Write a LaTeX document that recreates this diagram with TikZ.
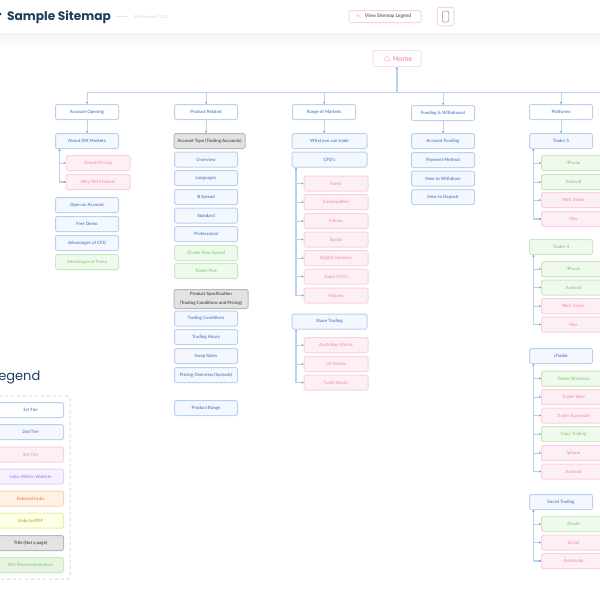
\documentclass[tikz,border=0pt]{standalone}
\usepackage{fontspec}
\usetikzlibrary{arrows.meta}
\setmainfont{Lato}
\newfontfamily\titlefont{Poppins}
\newcommand{\labelSize}[0]{\fontsize{4.4}{9}\bfseries\selectfont}
\definecolor{navy}{HTML}{1D3F5E}
\definecolor{lineBlue}{HTML}{B9D2F0}
\definecolor{tipBlue}{HTML}{6F9ADB}
\definecolor{textBlue}{HTML}{5A8CD4}
\definecolor{fillBlue}{HTML}{F4F7FD}
\definecolor{textPink}{HTML}{F99ABD}
\definecolor{fillPink}{HTML}{FDF0F4}
\definecolor{linePink}{HTML}{FBD0E0}
\definecolor{textGreen}{HTML}{8CD87C}
\definecolor{fillGreen}{HTML}{F0F9ED}
\definecolor{lineGreen}{HTML}{C8EABF}
\definecolor{lineLilac}{HTML}{DFCFFB}
\definecolor{fillLilac}{HTML}{F6F1FE}
\definecolor{textLilac}{HTML}{B58CF5}
\definecolor{lineOrange}{HTML}{FFD2AE}
\definecolor{fillOrange}{HTML}{FFF1E6}
\definecolor{textOrange}{HTML}{F58C4A}
\definecolor{lineYellow}{HTML}{E9EEA8}
\definecolor{fillYellow}{HTML}{FDFFE6}
\definecolor{textYellow}{HTML}{ADB338}
\definecolor{fillSeo}{HTML}{E8F3E4}

\begin{document}
\begin{tikzpicture}[x=1pt, y=-1pt]
  \tikzset{
    box/.style={rounded corners=1.5pt, line width=1pt, minimum width=63pt, minimum height=15pt, inner sep=0pt, align=center, font=\labelSize},
    tierOne/.style={box, draw=lineBlue, fill=white, text=textBlue},
    tierTwo/.style={box, draw=lineBlue, fill=fillBlue, text=textBlue},
    tierThree/.style={box, draw=linePink, fill=fillPink, text=textPink},
    seoBox/.style={box, draw=lineGreen, fill=fillGreen, text=textGreen},
    titleBox/.style={box, draw=black!28, fill=black!11, text=black!65},
    legendBox/.style={minimum width=66pt},
    link/.style={draw=lineBlue, line width=0.9pt, -{Stealth[length=2pt, width=2.2pt, color=tipBlue]}},
    trunk/.style={draw=lineBlue, line width=1.1pt, {Stealth[length=2pt, width=2.2pt, color=tipBlue]}-}
  }
  \useasboundingbox (0,0) rectangle (600,600);
  \clip (0,0) rectangle (600,600);

  \shade[top color=black!5, bottom color=white] (0,33) rectangle (600,46);
  \node[anchor=west, text=navy, font=\titlefont\bfseries\fontsize{12.2}{15}\selectfont, inner sep=0pt] (sitemapTitle) at (7,17) {Sample Sitemap};
  \fill[navy] (0,15.5) arc (90:-90:1.6) -- cycle;
  \draw[black!10, line width=0.5pt] (116,16.5) -- (127,16.5);
  \node[anchor=west, text=black!18, font=\fontsize{4.2}{5}\selectfont, inner sep=0pt] (sitemapDate) at (134,17) {26 February 2023};
  \node[box, draw=linePink, fill=white, text=black!60, minimum width=72pt, minimum height=12pt, font=\fontsize{4.8}{5}\bfseries\selectfont] (legendButton) at (385,16.5) {\hspace{6pt}View Sitemap Legend};
  \draw[linePink, line width=0.5pt] (358,15.5) circle (1.3) -- (361,18);
  \node[box, draw=linePink, fill=white, minimum width=16.5pt, minimum height=18.5pt] (phoneButton) at (445.5,16.5) {};
  \node[draw=black!45, fill=white, line width=0.5pt, rounded corners=2pt, minimum width=6.5pt, minimum height=11pt, inner sep=0pt] (phoneIcon) at (445.5,16.5) {};

  \node[box, draw=linePink!70, fill=white, text=textPink, minimum width=48pt, minimum height=16pt, font=\fontsize{7.2}{8}\bfseries\selectfont] (home) at (397,58.5) {\hspace{11pt}Home};
  \draw[textPink!70, line width=0.5pt] (384.5,60.5) -- (384.5,58) -- (387,56) -- (389.5,58) -- (389.5,60.5) -- cycle;

  \coordinate (busLeft) at (87,92.5);
  \coordinate (busRight) at (600,92.5);
  \draw[draw=lineBlue, line width=1pt] (busLeft) -- (busRight);
  \draw[trunk] (home.south) -- (home.south |- busRight);

  \node[tierOne] (accountOpening) at (87,112) {Account Opening};
  \node[tierTwo] (aboutXm) at (87,141) {About XM Markets};
  \node[tierThree, minimum width=64pt] (simplePricing) at (98,163) {Simple Pricing};
  \node[tierThree, minimum width=64pt] (whyXm) at (98,182) {Why XM Markets};
  \node[tierTwo] (openAccount) at (87,205) {Open an Account};
  \node[tierTwo] (freeDemo) at (87,224) {Free Demo};
  \node[tierTwo] (advCfd) at (87,243) {Advantages of CFD};
  \node[seoBox] (advForex) at (87,262) {Advantages of Forex};

  \node[tierOne] (productRelated) at (206,112) {Product Related};
  \node[titleBox, minimum width=71pt] (accountType) at (209.5,141) {Account Type (Trading Accounts)};
  \node[tierTwo] (overview) at (206,159.5) {Overview};
  \node[tierTwo] (languages) at (206,178) {Languages};
  \node[tierTwo] (bSpread) at (206,197) {B Spread};
  \node[tierTwo] (standard) at (206,215.5) {Standard};
  \node[tierTwo] (professional) at (206,234) {Professional};
  \node[seoBox] (rawSpread) at (206,253) {cTrader Raw Spread};
  \node[seoBox] (traderPlus) at (206,271) {Trader Plus};
  \node[titleBox, minimum width=74pt, minimum height=19pt] (productSpec) at (211,299) {Product Specification\\(Trading Conditions and Pricing)};
  \node[tierTwo] (tradingConditions) at (206,318.5) {Trading Conditions};
  \node[tierTwo] (tradingHours) at (206,337) {Trading Hours};
  \node[tierTwo] (swapRates) at (206,356) {Swap Rates};
  \node[tierTwo] (pricingOverview) at (206,375) {Pricing Overview (Spreads)};
  \node[tierTwo] (productRange) at (206,408) {Product Range};

  \node[tierOne] (rangeMarkets) at (324,112) {Range of Markets};
  \node[tierTwo, minimum width=75pt] (whatTrade) at (329.5,141) {What you can trade};
  \node[tierTwo, minimum width=75pt] (cfds) at (329.5,159.5) {CFD's};
  \node[tierThree, minimum width=64pt] (forex) at (336,183.5) {Forex};
  \node[tierThree, minimum width=64pt] (commodities) at (336,202) {Commodities};
  \node[tierThree, minimum width=64pt] (indices) at (336,221) {Indices};
  \node[tierThree, minimum width=64pt] (bonds) at (336,239.5) {Bonds};
  \node[tierThree, minimum width=64pt] (digitalCurrency) at (336,258) {Digital Currency};
  \node[tierThree, minimum width=64pt] (shareCfds) at (336,276.5) {Share CFD's};
  \node[tierThree, minimum width=64pt] (futures) at (336,295.5) {Futures};
  \node[tierTwo, minimum width=75pt] (shareTrading) at (329.5,321.5) {Share Trading};
  \node[tierThree, minimum width=64pt] (ausStocks) at (336,345) {Australian Stocks};
  \node[tierThree, minimum width=64pt] (usStocks) at (336,364) {US Stocks};
  \node[tierThree, minimum width=64pt] (tradeStocks) at (336,382.5) {Trade Stocks};

  \node[tierOne] (funding) at (443,113) {Funding \& Withdrawal};
  \node[tierTwo] (accountFunding) at (443,141) {Account Funding};
  \node[tierTwo] (paymentMethod) at (443,160) {Payment Method};
  \node[tierTwo] (howWithdraw) at (443,178.5) {How to Withdraw};
  \node[tierTwo] (howDeposit) at (443,197) {How to Deposit};

  \node[tierOne] (platforms) at (561,112) {Platforms};
  \node[tierTwo] (traderFive) at (561,141) {Trader 5};
  \node[seoBox, minimum width=64pt] (iphoneFive) at (573.5,163) {iPhone};
  \node[seoBox, minimum width=64pt] (androidFive) at (573.5,182) {Android};
  \node[tierThree, minimum width=64pt] (webFive) at (573.5,200) {Web Trader};
  \node[tierThree, minimum width=64pt] (macFive) at (573.5,219) {Mac};
  \node[seoBox] (traderFour) at (561,247) {Trader 4};
  \node[seoBox, minimum width=64pt] (iphoneFour) at (573.5,269) {iPhone};
  \node[seoBox, minimum width=64pt] (androidFour) at (573.5,287.5) {Android};
  \node[tierThree, minimum width=64pt] (webFour) at (573.5,306) {Web Trader};
  \node[tierThree, minimum width=64pt] (macFour) at (573.5,324.5) {Mac};
  \node[tierTwo] (cTrader) at (561,356) {cTrader};
  \node[seoBox, minimum width=64pt] (traderWindows) at (573.5,378.5) {Trader Windows};
  \node[tierThree, minimum width=64pt] (traderWeb) at (573.5,397) {Trader Web};
  \node[tierThree, minimum width=64pt] (traderAutomate) at (573.5,415.5) {Trader Automate};
  \node[seoBox, minimum width=64pt] (copyTrading) at (573.5,434) {Copy Trading};
  \node[tierThree, minimum width=64pt] (iphoneC) at (573.5,453) {Iphone};
  \node[tierThree, minimum width=64pt] (androidC) at (573.5,471.5) {Android};
  \node[tierTwo] (socialTrading) at (561,502) {Social Trading};
  \node[seoBox, minimum width=64pt] (ztrade) at (573.5,524) {Ztrade};
  \node[tierThree, minimum width=64pt] (social) at (573.5,542.5) {Social};
  \node[tierThree, minimum width=64pt] (autoTrade) at (573.5,561) {AutoTrade};

  \foreach \parent/\child in {accountOpening/aboutXm, productRelated/accountType, rangeMarkets/whatTrade, funding/accountFunding, platforms/traderFive}
    \draw[link] (\parent.south) -- (\parent.south |- \child.north);
  \foreach \first in {accountOpening, productRelated, rangeMarkets, funding, platforms}
    \draw[link] (\first.north |- busRight) -- (\first.north);

  \foreach \parent/\last in {aboutXm/whyXm, cfds/futures, shareTrading/tradeStocks, traderFive/macFive, traderFour/macFour, cTrader/androidC, socialTrading/autoTrade}
    \draw[trunk] ([xshift=4.5pt]\parent.south west) |- (\last.west);
  \foreach \parent/\child in {aboutXm/simplePricing, aboutXm/whyXm, cfds/forex, cfds/commodities, cfds/indices, cfds/bonds, cfds/digitalCurrency, cfds/shareCfds, cfds/futures, shareTrading/ausStocks, shareTrading/usStocks, shareTrading/tradeStocks, traderFive/iphoneFive, traderFive/androidFive, traderFive/webFive, traderFive/macFive, traderFour/iphoneFour, traderFour/androidFour, traderFour/webFour, traderFour/macFour, cTrader/traderWindows, cTrader/traderWeb, cTrader/traderAutomate, cTrader/copyTrading, cTrader/iphoneC, cTrader/androidC, socialTrading/ztrade, socialTrading/social, socialTrading/autoTrade}
    \draw[link] ([xshift=4.5pt]\parent.south west |- \child.west) -- (\child.west);

  \node[anchor=east, text=navy, font=\titlefont\fontsize{13}{15}\selectfont, inner sep=0pt] (legendTitle) at (40.5,377) {Legend};
  \draw[draw=lineLilac, line width=1pt, dashed, rounded corners=2pt] (-5,396) rectangle (70,579);
  \node[tierOne, legendBox] (legendOne) at (30.5,410) {1st Tier};
  \node[tierTwo, legendBox] (legendTwo) at (30.5,432) {2nd Tier};
  \node[tierThree, legendBox] (legendThree) at (30.5,454.5) {3rd Tier};
  \node[box, legendBox, draw=lineLilac, fill=fillLilac, text=textLilac] (legendLinks) at (30.5,476.5) {Links Within Website};
  \node[box, legendBox, draw=lineOrange, fill=fillOrange, text=textOrange] (legendExternal) at (30.5,498.5) {External Links};
  \node[box, legendBox, draw=lineYellow, fill=fillYellow, text=textYellow] (legendPdf) at (30.5,520.5) {Links to PDF};
  \node[titleBox, legendBox] (legendTitleBox) at (30.5,543) {Title (Not a page)};
  \node[seoBox, legendBox, fill=fillSeo] (legendSeo) at (30.5,565) {SEO Recommendations};
\end{tikzpicture}
\end{document}
